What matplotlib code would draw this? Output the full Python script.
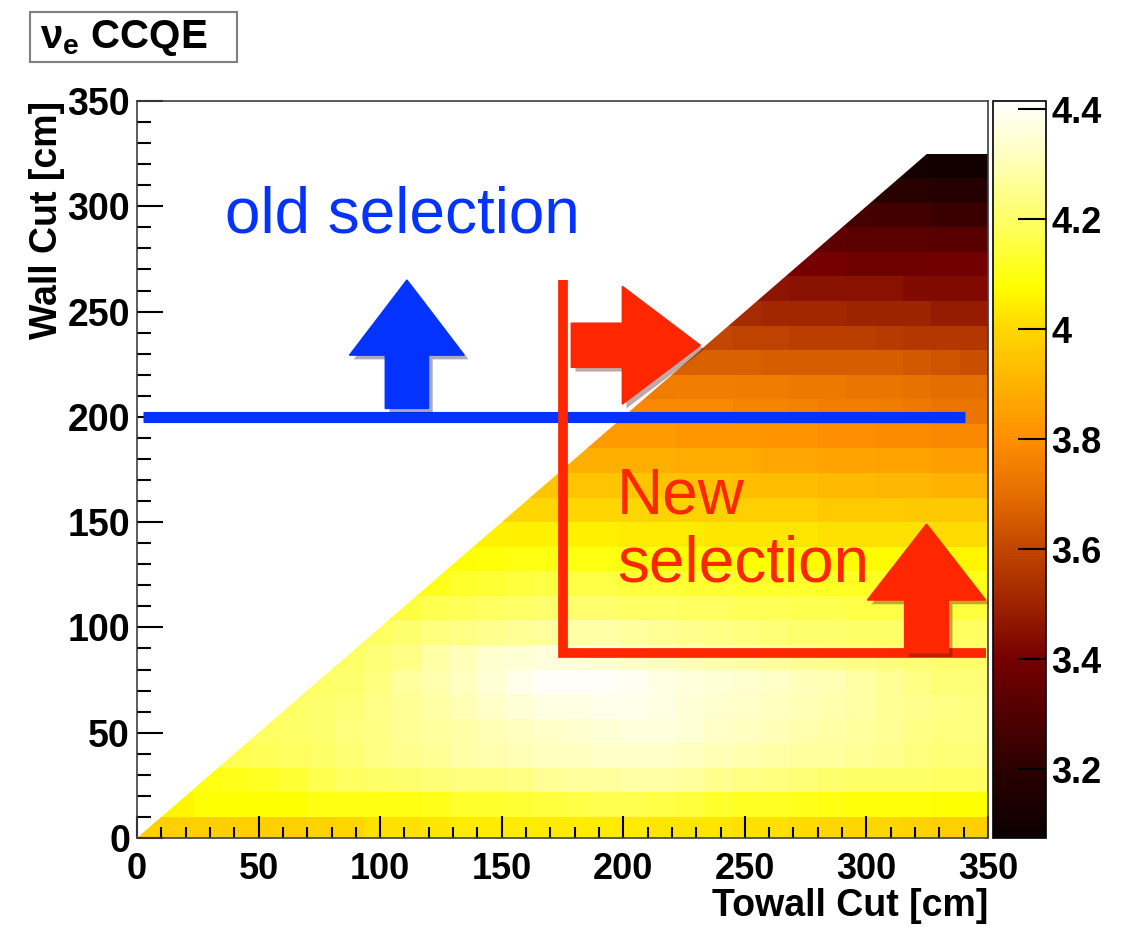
import numpy as np
import matplotlib
matplotlib.use("Agg")
import matplotlib.pyplot as plt
import matplotlib.patheffects as pe
from matplotlib.colors import LinearSegmentedColormap, Normalize
from matplotlib.patches import Polygon, Rectangle
import matplotlib.ticker as ticker

plt.rcParams["font.family"] = ["Liberation Sans", "DejaVu Sans"]
plt.rcParams["font.weight"] = "bold"
plt.rcParams["axes.labelweight"] = "bold"
plt.rcParams["mathtext.fontset"] = "custom"
plt.rcParams["mathtext.rm"] = "Liberation Sans"
plt.rcParams["mathtext.bf"] = "Liberation Sans:bold"
plt.rcParams["mathtext.it"] = "Liberation Sans:italic"

nan = np.nan

# 30 towall bins over 0-350 cm, 28 wall bins (first one cut at 0)
bin_w = 350 / 30
towall_edges = np.linspace(0, 350, 31)
wall_edges = -5 / 3 + bin_w * np.arange(29)

# cell values, bottom wall row first
wall_rows = [
    [3.98, 3.98, 3.98, 3.98, 3.98, 3.98, 3.99, 4.00, 4.02, 4.02,
     4.03, 4.04, 4.04, 4.04, 4.04, 4.04, 4.04, 4.04, 4.03, 4.03,
     4.03, 4.02, 4.02, 4.01, 4.00, 4.00, 4.00, 3.99, 3.98, 3.98],
    [4.06, 4.06, 4.08, 4.08, 4.08, 4.08, 4.10, 4.10, 4.10, 4.10,
     4.11, 4.13, 4.13, 4.14, 4.15, 4.16, 4.17, 4.17, 4.16, 4.15,
     4.13, 4.12, 4.12, 4.11, 4.10, 4.09, 4.09, 4.09, 4.08, 4.08],
    [nan, 4.10, 4.10, 4.11, 4.12, 4.14, 4.17, 4.19, 4.20, 4.21,
     4.22, 4.23, 4.23, 4.24, 4.26, 4.27, 4.27, 4.28, 4.28, 4.27,
     4.25, 4.24, 4.23, 4.22, 4.21, 4.20, 4.20, 4.20, 4.19, 4.19],
    [nan, nan, 4.16, 4.17, 4.18, 4.19, 4.20, 4.22, 4.24, 4.25,
     4.26, 4.28, 4.29, 4.30, 4.32, 4.32, 4.33, 4.33, 4.33, 4.32,
     4.30, 4.29, 4.28, 4.27, 4.27, 4.26, 4.25, 4.23, 4.22, 4.22],
    [nan, nan, nan, 4.18, 4.19, 4.20, 4.21, 4.23, 4.24, 4.26,
     4.27, 4.28, 4.30, 4.32, 4.33, 4.34, 4.35, 4.36, 4.36, 4.35,
     4.33, 4.32, 4.31, 4.29, 4.28, 4.27, 4.26, 4.24, 4.23, 4.23],
    [nan, nan, nan, nan, 4.19, 4.20, 4.21, 4.22, 4.24, 4.26,
     4.28, 4.30, 4.33, 4.35, 4.37, 4.37, 4.38, 4.38, 4.37, 4.35,
     4.34, 4.33, 4.32, 4.30, 4.29, 4.28, 4.26, 4.25, 4.24, 4.23],
    [nan] * 5 + [4.19, 4.20, 4.21, 4.23, 4.27,
                 4.29, 4.32, 4.35, 4.38, 4.40, 4.40, 4.40, 4.39, 4.37, 4.36,
                 4.35, 4.34, 4.33, 4.31, 4.30, 4.28, 4.26, 4.24, 4.22, 4.22],
    [nan] * 6 + [4.18, 4.20, 4.22, 4.24,
                 4.28, 4.31, 4.34, 4.35, 4.36, 4.36, 4.35, 4.33, 4.32, 4.30,
                 4.29, 4.28, 4.27, 4.26, 4.25, 4.24, 4.23, 4.22, 4.21, 4.21],
    [nan] * 7 + [4.17, 4.19, 4.21,
                 4.23, 4.24, 4.25, 4.26, 4.27, 4.28, 4.28, 4.27, 4.26, 4.25,
                 4.24, 4.23, 4.22, 4.21, 4.21, 4.20, 4.20, 4.20, 4.19, 4.19],
    [nan] * 8 + [4.13, 4.15,
                 4.17, 4.18, 4.19, 4.20, 4.21, 4.21, 4.21, 4.20, 4.20, 4.19,
                 4.19, 4.18, 4.18, 4.17, 4.17, 4.16, 4.16, 4.16, 4.15, 4.15],
    [nan] * 9 + [4.10,
                 4.11, 4.13, 4.14, 4.15, 4.16, 4.16, 4.16, 4.15, 4.15, 4.14,
                 4.14, 4.13, 4.13, 4.13, 4.12, 4.12, 4.12, 4.11, 4.11, 4.11],
    [nan] * 10 + [4.07, 4.08, 4.09, 4.10, 4.10, 4.10, 4.10, 4.09, 4.09, 4.09,
                  4.08, 4.08, 4.08, 4.07, 4.07, 4.07, 4.07, 4.06, 4.06, 4.06],
    [nan] * 11 + [4.04, 4.05, 4.05, 4.05, 4.05, 4.05, 4.04, 4.04, 4.04,
                  4.03, 4.03, 4.03, 4.03, 4.02, 4.02, 4.02, 4.02, 4.01, 4.01],
    [nan] * 12 + [3.99, 4.00, 4.00, 4.00, 4.00, 4.00, 3.99, 3.99,
                  3.99, 3.98, 3.98, 3.98, 3.97, 3.97, 3.97, 3.96, 3.96, 3.96],
    [nan] * 13 + [3.94, 3.95, 3.95, 3.95, 3.95, 3.94, 3.94,
                  3.94, 3.93, 3.93, 3.93, 3.92, 3.92, 3.91, 3.91, 3.90, 3.90],
    [nan] * 14 + [3.88, 3.89, 3.89, 3.89, 3.89, 3.88,
                  3.88, 3.88, 3.87, 3.87, 3.86, 3.86, 3.85, 3.85, 3.84, 3.84],
    [nan] * 15 + [3.82, 3.83, 3.83, 3.83, 3.82,
                  3.82, 3.82, 3.81, 3.81, 3.80, 3.80, 3.79, 3.79, 3.78, 3.78],
    [nan] * 16 + [3.77, 3.78, 3.78, 3.78,
                  3.78, 3.77, 3.77, 3.76, 3.75, 3.75, 3.74, 3.73, 3.72, 3.72],
    [nan] * 17 + [3.74, 3.74, 3.75,
                  3.75, 3.74, 3.74, 3.73, 3.73, 3.72, 3.72, 3.71, 3.70, 3.70],
    [nan] * 18 + [3.67, 3.67,
                  3.67, 3.67, 3.66, 3.66, 3.66, 3.66, 3.66, 3.65, 3.64, 3.62],
    [nan] * 19 + [3.60,
                  3.60, 3.59, 3.59, 3.58, 3.58, 3.58, 3.57, 3.56, 3.56, 3.56],
    [nan] * 20 + [3.52, 3.52, 3.51, 3.51, 3.51, 3.50, 3.50, 3.50, 3.48, 3.48],
    [nan] * 21 + [3.46, 3.46, 3.45, 3.45, 3.45, 3.45, 3.43, 3.43, 3.43],
    [nan] * 22 + [3.40, 3.40, 3.40, 3.38, 3.38, 3.38, 3.39, 3.39],
    [nan] * 23 + [3.34, 3.34, 3.33, 3.33, 3.33, 3.32, 3.32],
    [nan] * 24 + [3.27, 3.27, 3.26, 3.26, 3.24, 3.24],
    [nan] * 25 + [3.19, 3.19, 3.19, 3.18, 3.18],
    [nan] * 26 + [3.11, 3.11, 3.10, 3.10],
]

z_min, z_max = 3.075, 4.415
cbar_ticks = [3.2, 3.4, 3.6, 3.8, 4.0, 4.2, 4.4]

# palette
pal_values = [3.075, 3.2, 3.3, 3.4, 3.5, 3.6, 3.7, 3.8, 3.9, 4.0, 4.08, 4.2, 4.3, 4.415]
pal_colors = [(0.05, 0, 0), (0.17, 0, 0), (0.32, 0, 0), (0.46, 0, 0),
              (0.62, 0.14, 0), (0.76, 0.27, 0), (0.9, 0.43, 0), (1.0, 0.56, 0),
              (1.0, 0.7, 0), (1.0, 0.84, 0), (1.0, 1.0, 0), (1.0, 1.0, 0.4),
              (1.0, 1.0, 0.7), (1.0, 1.0, 1.0)]
cmap = LinearSegmentedColormap.from_list(
    "root_hot",
    [((v - z_min) / (z_max - z_min), c) for v, c in zip(pal_values, pal_colors)])

blue = "#0433FF"
red = "#FF2600"


def up_arrow(xc, y_tail, y_base, y_tip, head_w, shaft_w):
    return [(xc - shaft_w, y_tail), (xc + shaft_w, y_tail), (xc + shaft_w, y_base),
            (xc + head_w, y_base), (xc, y_tip), (xc - head_w, y_base),
            (xc - shaft_w, y_base)]


def right_arrow(yc, x_tail, x_base, x_tip, head_h, shaft_h):
    return [(x_tail, yc - shaft_h), (x_tail, yc + shaft_h), (x_base, yc + shaft_h),
            (x_base, yc + head_h), (x_tip, yc), (x_base, yc - head_h),
            (x_base, yc - shaft_h)]


fig = plt.figure(figsize=(11.21, 9.27), dpi=100)
ax = fig.add_axes([137 / 1121, 1 - 838 / 927, 851 / 1121, 737 / 927])
cax = fig.add_axes([993 / 1121, 1 - 838 / 927, 53 / 1121, 737 / 927])

z = np.ma.masked_invalid(np.array(wall_rows))
mesh = ax.pcolormesh(towall_edges, wall_edges, z, cmap=cmap,
                     norm=Normalize(z_min, z_max), shading="flat",
                     edgecolors="none", antialiased=False)
tri = Polygon([(0, 0), (350, 350), (350, 0)], transform=ax.transData)
mesh.set_clip_path(tri)

ax.set_xlim(0, 350)
ax.set_ylim(0, 350)
ax.xaxis.set_major_locator(ticker.MultipleLocator(50))
ax.xaxis.set_minor_locator(ticker.MultipleLocator(10))
ax.yaxis.set_major_locator(ticker.MultipleLocator(50))
ax.yaxis.set_minor_locator(ticker.MultipleLocator(10))
ax.tick_params(axis="x", which="major", direction="in", length=16, width=1.5,
               labelsize=26, pad=10, top=False)
ax.tick_params(axis="x", which="minor", direction="in", length=8, width=1.5, top=False)
ax.tick_params(axis="y", which="major", direction="in", length=19, width=1.5,
               labelsize=27, pad=5, right=False)
ax.tick_params(axis="y", which="minor", direction="in", length=10, width=1.5, right=False)
for s in ax.spines.values():
    s.set_linewidth(1.2)
    s.set_color("0.25")

ax.set_xlabel("Towall Cut [cm]", fontsize=27, loc="right")
ax.xaxis.set_label_coords(1.0, -0.068)
ax.set_ylabel("Wall Cut [cm]", fontsize=27, loc="top")
ax.yaxis.set_label_coords(-0.085, 1.0)

# colour bar
cb = fig.colorbar(mesh, cax=cax, ticks=cbar_ticks, format="%g")
cb.outline.set_linewidth(1.2)
cax.tick_params(direction="in", length=20, width=1.5, labelsize=26, pad=4)
cax.minorticks_off()

# annotations
shadow = [pe.SimplePatchShadow(offset=(3, -3), alpha=0.35), pe.Normal()]
ax.plot([2.5, 340.7], [200, 200], color=blue, lw=8, solid_capstyle="butt", zorder=5)
ax.add_patch(Polygon(up_arrow(111, 204, 229.3, 265, 23.6, 8.9), closed=True,
                     color=blue, zorder=6, path_effects=shadow))
ax.text(36.2, 287.7, "old selection", color=blue, fontsize=46,
        fontweight="normal", ha="left", va="baseline", zorder=7)

ax.plot([175.3, 175.3, 349], [265, 87.8, 87.8], color=red, lw=7,
        solid_joinstyle="miter", solid_capstyle="butt", zorder=5)
ax.add_patch(Polygon(right_arrow(234, 178.6, 199.6, 231.7, 28, 10.5), closed=True,
                     color=red, zorder=6, path_effects=shadow))
ax.add_patch(Polygon(up_arrow(324.7, 87.9, 113, 149.1, 24.3, 9), closed=True,
                     color=red, zorder=6, path_effects=shadow))
ax.text(197.5, 154.3, "New", color=red, fontsize=46, fontweight="normal",
        ha="left", va="baseline", zorder=7)
ax.text(197.5, 121.6, "selection", color=red, fontsize=46, fontweight="normal",
        ha="left", va="baseline", zorder=7)

# title box
fig.add_artist(Rectangle((30 / 1121, 1 - 62 / 927), 207 / 1121, 50 / 927,
                         transform=fig.transFigure, facecolor="white",
                         edgecolor="0.5", lw=1.5))
fig.text(40 / 1121, 1 - 38 / 927, r"$\mathrm{\nu}_{\mathbf{e}}$ CCQE",
         fontsize=29, ha="left", va="center")

fig.savefig("out.png", dpi=100)
